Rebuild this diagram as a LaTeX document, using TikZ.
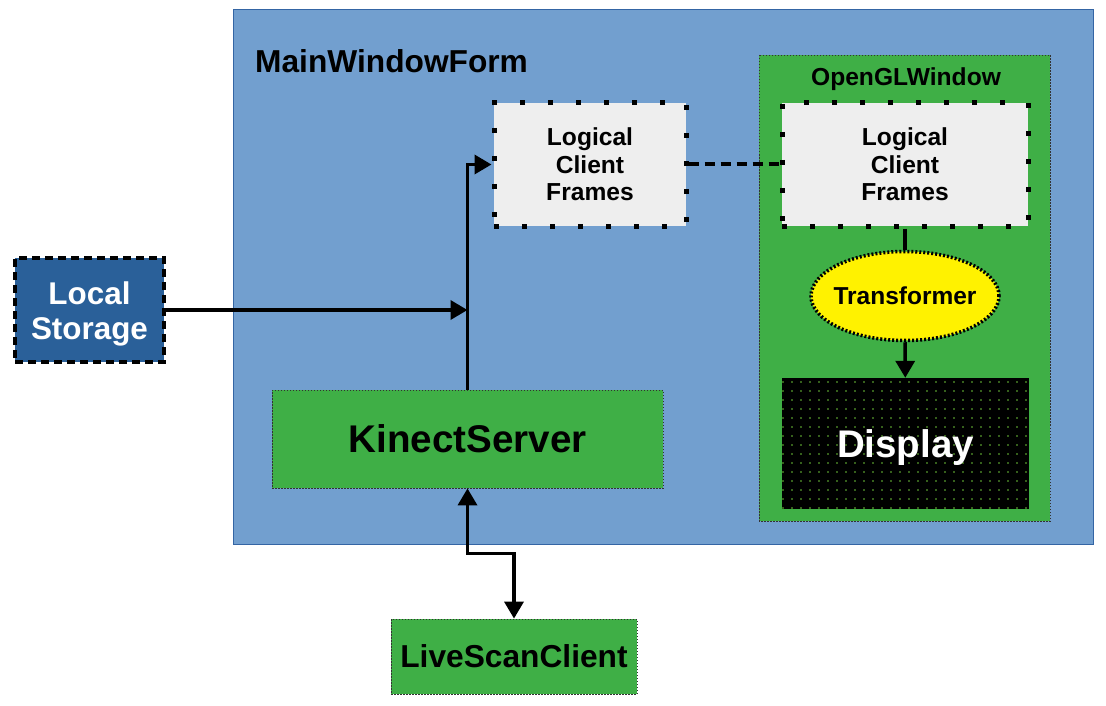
\documentclass[tikz,border=0pt]{standalone}
\usepackage{fontspec}
\setmainfont{Liberation Sans}
\usetikzlibrary{arrows.meta,patterns.meta,shapes.geometric}
\definecolor{winblue}{HTML}{729FCF}
\definecolor{winedge}{HTML}{3465A4}
\definecolor{boxgreen}{HTML}{3FAF46}
\definecolor{storeblue}{HTML}{2A6099}
\definecolor{framegray}{HTML}{EEEEEE}
\definecolor{dotgreen}{HTML}{6FC43A}
\begin{document}
\begin{tikzpicture}[x=1pt,y=-1pt,
  thinborder/.style={draw=black!80,line width=0.8pt,dash pattern=on 1.5pt off 1.5pt},
  greenbox/.style={thinborder,fill=boxgreen,inner sep=0pt},
  framebox/.style={draw=black,fill=framegray,line width=5pt,dash pattern=on 5pt off 23pt,
    minimum width=192pt,minimum height=123pt,inner sep=0pt,align=center,
    font=\fontsize{24.6}{27.5}\selectfont\bfseries},
  flow/.style={line width=3.5pt,-{Triangle[length=17pt,width=19pt]}},
  ]
  \useasboundingbox (0,0) rectangle (1106,706);
  % outer window
  \draw [fill=winblue,draw=winedge,line width=1pt] (233,10) rectangle (1093,544);
  \node (MainWindowForm) at (255,61) [anchor=west,inner sep=0pt,font=\fontsize{31.7}{34}\selectfont\bfseries] {MainWindowForm};
  \draw [thinborder,fill=boxgreen] (759,55) rectangle (1050,521);
  \node (OpenGLWindow) at (906,79) [inner sep=0pt,font=\fontsize{24.6}{27}\selectfont\bfseries] {OpenGLWindow};
  % nodes
  \node (Frames) at (590,164.5) [framebox] {Logical\\Client\\Frames};
  \node (GLFrames) at (905,164.5) [framebox,minimum width=246pt] {Logical\\Client\\Frames};
  \node (Transformer) at (905,296) [ellipse,draw=black,fill=yellow,line width=3.5pt,dash pattern=on 2pt off 2pt,
    minimum width=188pt,minimum height=89pt,inner xsep=-5pt,inner ysep=0pt,font=\fontsize{24.5}{27}\selectfont\bfseries] {Transformer};
  \node (Display) at (905.5,443.5) [fill=black,minimum width=247pt,minimum height=131pt,inner sep=0pt,
    postaction={pattern={Dots[distance=9pt,radius=0.9pt]},pattern color=dotgreen},
    text=white,font=\fontsize{38.5}{40}\selectfont\bfseries] {\rule{0pt}{36pt}Display};
  \node (KinectServer) at (467.5,439) [greenbox,minimum width=391pt,minimum height=98pt,
    font=\fontsize{38.6}{40}\selectfont\bfseries] {KinectServer};
  \node (LiveScanClient) at (514,656.5) [greenbox,minimum width=246pt,minimum height=75pt,
    font=\fontsize{31.7}{34}\selectfont\bfseries] {LiveScanClient};
  \node (LocalStorage) at (89.5,310) [draw=black,fill=storeblue,line width=4pt,dash pattern=on 8pt off 5pt,
    minimum width=149pt,minimum height=104pt,inner sep=0pt,align=center,text=white,
    font=\fontsize{31.4}{35}\selectfont\bfseries] {\rule{0pt}{31pt}Local\\Storage};
  % connectors
  \draw [line width=4pt,dash pattern=on 10pt off 6pt] (Frames) -- (GLFrames);
  \draw [line width=3.5pt] (GLFrames) -- (Transformer);
  \draw [flow] (Transformer) -- (Display);
  \draw [flow] (KinectServer.north) |- (Frames.west);
  \draw [flow] (LocalStorage.east) -- (LocalStorage.east -| KinectServer.north);
  \draw [flow,{Triangle[length=17pt,width=19pt]}-{Triangle[length=17pt,width=19pt]}]
    (KinectServer.south) -- ++(0,65) -| (LiveScanClient.north);
\end{tikzpicture}
\end{document}
